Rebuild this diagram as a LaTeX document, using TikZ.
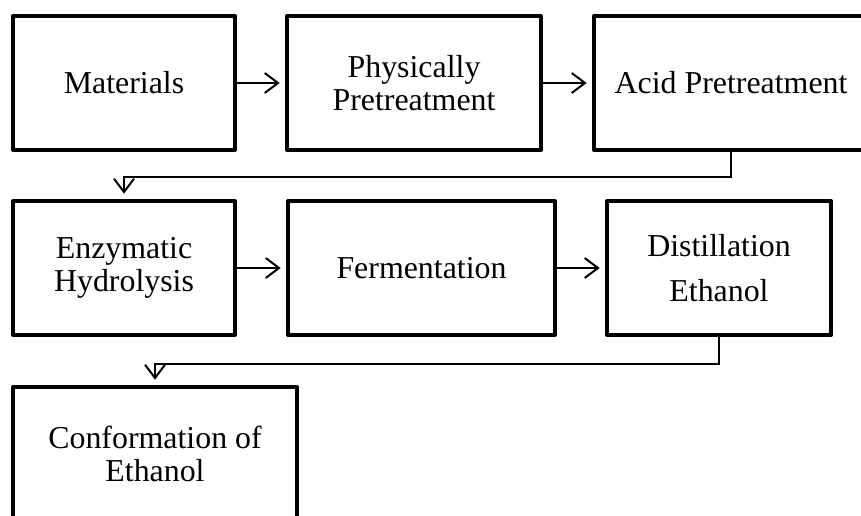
\documentclass[tikz,border=0pt]{standalone}
\usepackage{fontspec}
\setmainfont{Liberation Serif}
\usetikzlibrary{arrows.meta}
\tikzset{every picture/.style={line width=1.5pt}}
\tikzset{stage/.style={draw, line width=3pt, line join=round, align=center,
    minimum height=3.545cm, inner sep=0pt, font=\fontsize{24}{25}\selectfont},
  flow/.style={-{Straight Barb[length=10pt,width=15pt]}, shorten >=4pt}}

\begin{document}
\begin{tikzpicture}
\useasboundingbox (0,0) rectangle (22.78,-13.626);
\clip (0,0) rectangle (22.78,-13.626);
\node[stage, minimum width=5.874cm] (m) at (3.281,-2.196) {Materials};
\node[stage, minimum width=6.720cm] (pp) at (10.954,-2.196) {Physically\\Pretreatment};
\node[stage, minimum width=7.250cm] (ap) at (19.341,-2.196) {Acid Pretreatment};
%
\node[stage, minimum width=5.874cm] (eh) at (3.281,-7.091) {Enzymatic\\Hydrolysis};
\node[stage, minimum width=7.064cm] (fe) at (11.152,-7.091) {Fermentation};
\node[stage, minimum width=5.927cm] (de) at (19.023,-7.091) {Distillation\\[9pt]Ethanol};
%
\node[stage, minimum width=7.514cm] (ce) at (4.101,-12.012) {Conformation of\\Ethanol};
%
\foreach \Source/\Target in {%
        m.east/pp.west,
        pp.east/ap.west,
        eh.east/fe.west,
        fe.east/de.west%
    }
\draw[flow] (\Source) to (\Target);
%
\draw[flow] (ap.south) -- ++(0,-0.66) -| (eh.north);
\draw[flow] (de.south) -- ++(0,-0.71) -| (ce.north);
\end{tikzpicture}
\end{document}
